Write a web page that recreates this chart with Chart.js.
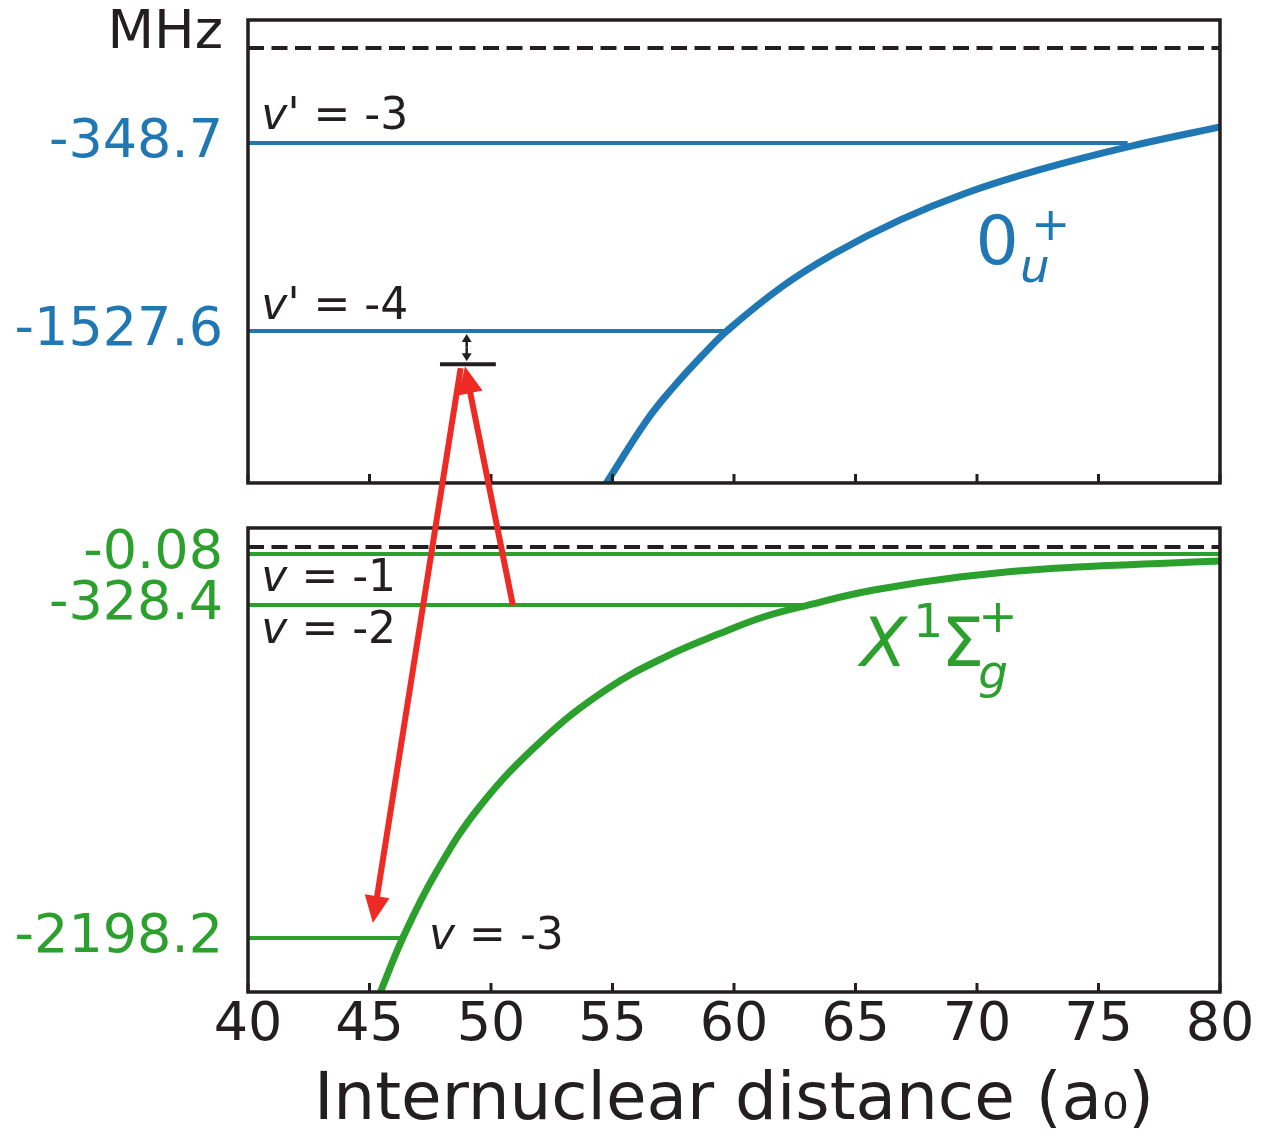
<!DOCTYPE html>
<html>
<head>
<meta charset="utf-8">
<title>Photoassociation level scheme</title>
<script src="https://cdn.jsdelivr.net/npm/chart.js@4.4.1/dist/chart.umd.min.js"></script>
<style>
  html, body { margin: 0; padding: 0; background: #ffffff; }
  #wrap { width: 1264px; height: 1142px; position: relative; }
  canvas { display: block; }
</style>
</head>
<body>
<div id="wrap"><canvas id="scheme" width="1264" height="1142"></canvas></div>
<script>
// ---- data -----------------------------------------------------------------
// internuclear distance axis (a0)
const xTicks = [40, 45, 50, 55, 60, 65, 70, 75, 80];

// excited 0u+ state: bound levels (MHz below its threshold) and where each level line stops (a0)
const upperLevels = [-348.7, -1527.6];
const upperLevelNames = ["-3", "-4"];
const upperLevelEnds = [76.2, 59.7];

// ground X1Σg+ state
const lowerLevels = [-0.08, -328.4, -2198.2];
const lowerLevelNames = ["-1", "-2", "-3"];
const lowerLevelEnds = [80, 63.05, 46.3];

// potential curves: R (a0) and energy (MHz)
const upperR = [54.75, 56.42, 57.52, 58.78, 59.7, 61.97, 64.15, 66.84, 69.53, 72.55, 76.25, 80];
const upperE = [-2500, -2097, -1884, -1670, -1527.6, -1250, -1040, -831, -664, -518, -372, -290];

const lowerR = [45.45, 46.37, 47.72, 49.53, 52.12, 54.71, 57.18, 59.44, 61.24, 63.04, 65.75, 69.35, 73.18, 80];
const lowerE = [-2500, -2198.2, -1835, -1461, -1086, -806, -619, -487, -394, -328.4, -232, -146, -92, -45];

// photoassociation target level (detuned below v' = -4) and its R span
const targetE = -1740;
const targetSpan = [47.9, 50.2];

// ---- styles ---------------------------------------------------------------
const FONT = "'DejaVu Sans'";
const INK = '#231f20';
const BLUE = '#1f77b4';
const GREEN = '#2ca02c';
const RED = '#ed2a24';

// Schematic energy axes: each panel maps energy onto its own band of the plot height,
// piecewise-linear between the listed energies (stops are fractions of the plot height).
const energyBands = {
  yTop: { values: [100, 0, -348.7, -1527.6, -2500], stops: [0, 0.0288, 0.1265, 0.3200, 0.4763] },
  yBot: { values: [0.2, 0, -0.08, -328.4, -2198.2, -2500], stops: [0.5226, 0.5422, 0.5494, 0.6019, 0.9444, 1] }
};

class EnergyScale extends Chart.LinearScale {
  static id = 'energy';
  band() { return energyBands[this.id]; }
  area() { return this.chart.chartArea || this; }
  getPixelForValue(value) {
    if (value === null || value === undefined || isNaN(value)) return NaN;
    const { values, stops } = this.band();
    const { top, bottom } = this.area();
    let i = 0;
    while (i < values.length - 2 && value < values[i + 1]) i++;
    const t = (value - values[i]) / (values[i + 1] - values[i]);
    const f = stops[i] + t * (stops[i + 1] - stops[i]);
    return top + f * (bottom - top);
  }
  getValueForPixel(pixel) {
    const { values, stops } = this.band();
    const { top, bottom } = this.area();
    const f = (pixel - top) / (bottom - top);
    let i = 0;
    while (i < stops.length - 2 && f > stops[i + 1]) i++;
    const t = (f - stops[i]) / (stops[i + 1] - stops[i]);
    return values[i] + t * (values[i + 1] - values[i]);
  }
}
Chart.register(EnergyScale);

// ---- datasets -------------------------------------------------------------
const pts = (xs, ys) => xs.map((x, i) => ({ x, y: ys[i] }));

function curve(axis, xs, ys, color) {
  return {
    yAxisID: axis, data: pts(xs, ys), borderColor: color, borderWidth: 7,
    pointRadius: 0, fill: false, tension: 0.4
  };
}
function hline(axis, y, x0, x1, color, width, dash) {
  return {
    yAxisID: axis, data: [{ x: x0, y }, { x: x1, y }], borderColor: color,
    borderWidth: width, borderDash: dash || [], pointRadius: 0, fill: false
  };
}

const datasets = [
  curve('yTop', upperR, upperE, BLUE),
  curve('yBot', lowerR, lowerE, GREEN),
  hline('yTop', 0, xTicks[0], xTicks[xTicks.length - 1], INK, 4, [16, 7.5]),
  hline('yBot', 0, xTicks[0], xTicks[xTicks.length - 1], INK, 4, [16, 7.5]),
  hline('yTop', targetE, targetSpan[0], targetSpan[1], INK, 4),
  ...upperLevels.map((e, i) => hline('yTop', e, xTicks[0], upperLevelEnds[i], BLUE, 4)),
  ...lowerLevels.map((e, i) => hline('yBot', e, xTicks[0], lowerLevelEnds[i], GREEN, 4))
];

// ---- annotations ----------------------------------------------------------
// laser transitions: [R, E, axis]
const transitions = [
  { from: [50.9, -328.4, 'yBot'], to: [48.93, -1755, 'yTop'] },
  { from: [48.75, -1765, 'yTop'], to: [45.14, -2114, 'yBot'] }
];

// level tags: axis, level, R of text start, pixel offset of baseline, primed quantum number
const levelTags = [
  { axis: 'yTop', level: upperLevels[0], r: 40.55, dy: -14, prime: true, name: upperLevelNames[0] },
  { axis: 'yTop', level: upperLevels[1], r: 40.55, dy: -12, prime: true, name: upperLevelNames[1] },
  { axis: 'yBot', level: lowerLevels[0], r: 40.55, dy: 37, prime: false, name: lowerLevelNames[0] },
  { axis: 'yBot', level: lowerLevels[1], r: 40.55, dy: 38, prime: false, name: lowerLevelNames[1] },
  { axis: 'yBot', level: lowerLevels[2], r: 47.45, dy: 11, prime: false, name: lowerLevelNames[2] }
];

function font(size, italic) { return (italic ? 'italic ' : '') + size + 'px ' + FONT; }

function arrow(ctx, x1, y1, x2, y2, width, headLen, headHalf, color) {
  const dx = x2 - x1, dy = y2 - y1, L = Math.hypot(dx, dy);
  const ux = dx / L, uy = dy / L;
  const bx = x2 - ux * headLen, by = y2 - uy * headLen;
  ctx.strokeStyle = color; ctx.fillStyle = color; ctx.lineWidth = width; ctx.lineCap = 'butt';
  ctx.beginPath(); ctx.moveTo(x1, y1); ctx.lineTo(bx + ux * 2, by + uy * 2); ctx.stroke();
  ctx.beginPath();
  ctx.moveTo(x2, y2);
  ctx.lineTo(bx - uy * headHalf, by + ux * headHalf);
  ctx.lineTo(bx + uy * headHalf, by - ux * headHalf);
  ctx.closePath(); ctx.fill();
}

function text(ctx, str, x, y, f, color) {
  ctx.font = f; ctx.fillStyle = color; ctx.fillText(str, x, y);
  return ctx.measureText(str).width;
}

const overlay = {
  id: 'overlay',
  afterDraw(chart) {
    const { ctx, scales } = chart;
    const xs = scales.x;
    const xL = xs.getPixelForValue(xTicks[0]);
    const xR = xs.getPixelForValue(xTicks[xTicks.length - 1]);
    ctx.save();

    // panel frames with inward tick marks along their lower edges
    ['yTop', 'yBot'].forEach(id => {
      const ax = scales[id], v = energyBands[id].values;
      const y0 = ax.getPixelForValue(v[0]), y1 = ax.getPixelForValue(v[v.length - 1]);
      ctx.strokeStyle = INK; ctx.lineWidth = 3; ctx.beginPath();
      xTicks.forEach(t => { const px = xs.getPixelForValue(t); ctx.moveTo(px, y1); ctx.lineTo(px, y1 - 9); });
      ctx.stroke();
      ctx.lineWidth = 3.5; ctx.strokeRect(xL, y0, xR - xL, y1 - y0);
    });

    // detuning marker between v' = -4 and the target level
    const ax = scales.yTop;
    const mx = xs.getPixelForValue(49.0);
    const yA = ax.getPixelForValue(upperLevels[1]) + 3, yB = ax.getPixelForValue(targetE) - 3;
    arrow(ctx, mx, (yA + yB) / 2, mx, yA, 2.5, 8, 5, INK);
    arrow(ctx, mx, (yA + yB) / 2, mx, yB, 2.5, 8, 5, INK);

    // laser transitions
    transitions.forEach(t => {
      const x1 = xs.getPixelForValue(t.from[0]), y1 = scales[t.from[2]].getPixelForValue(t.from[1]);
      const x2 = xs.getPixelForValue(t.to[0]), y2 = scales[t.to[2]].getPixelForValue(t.to[1]);
      arrow(ctx, x1, y1, x2, y2, 6, 27, 12.5, RED);
    });

    // unit label
    ctx.textAlign = 'right'; ctx.textBaseline = 'alphabetic';
    text(ctx, 'MHz', xL - 25, ax.getPixelForValue(0), font(54), INK);

    // vibrational level tags
    ctx.textAlign = 'left';
    levelTags.forEach(tag => {
      let x = xs.getPixelForValue(tag.r);
      const y = scales[tag.axis].getPixelForValue(tag.level) + tag.dy;
      x += text(ctx, 'v', x, y, font(44, true), INK);
      text(ctx, (tag.prime ? "'" : '') + ' = ' + tag.name, x, y, font(44), INK);
    });

    // state names
    let x0 = xs.getPixelForValue(69.94), y0 = scales.yTop.getPixelForValue(-1107.5);
    text(ctx, '0', x0, y0, font(68), BLUE);
    text(ctx, 'u', x0 + 44.5, y0 + 18, font(47, true), BLUE);
    text(ctx, '+', x0 + 55.5, y0 - 24, font(47), BLUE);

    x0 = xs.getPixelForValue(65.2); y0 = scales.yBot.getPixelForValue(-670.9);
    text(ctx, 'X', x0, y0, font(68, true), GREEN);
    text(ctx, '1', x0 + 53, y0 - 29, font(47), GREEN);
    text(ctx, 'Σ', x0 + 81, y0, font(68), GREEN);
    text(ctx, 'g', x0 + 118, y0 + 22, font(47, true), GREEN);
    text(ctx, '+', x0 + 118, y0 - 34, font(47), GREEN);

    ctx.restore();
  }
};

// ---- chart ----------------------------------------------------------------
const levelTicks = (list) => (scale) => { scale.ticks = list.map(v => ({ value: v })); };
// both energy axes share one stacked column on the left; the upper panel's axis sits on top
const yAxis = (list, color, weight, min, max) => ({
  type: 'energy', position: 'left', stack: 'energy', stackWeight: 1, weight, min, max,
  afterBuildTicks: levelTicks(list),
  afterFit: (s) => { s.width = 248; s.paddingTop = 0; s.paddingBottom = 0; },
  grid: { display: false, drawTicks: false },
  border: { display: false },
  ticks: { color, font: { family: FONT, size: 54 }, padding: 25, autoSkip: false, callback: (v) => String(v) }
});

new Chart(document.getElementById('scheme'), {
  type: 'line',
  data: { datasets },
  options: {
    responsive: false,
    maintainAspectRatio: false,
    animation: false,
    layout: { padding: { top: 20, right: 44, left: 0, bottom: 0 } },
    plugins: { legend: { display: false }, tooltip: { enabled: false } },
    events: [],
    scales: {
      x: {
        type: 'linear', position: 'bottom', min: xTicks[0], max: xTicks[xTicks.length - 1],
        afterBuildTicks: levelTicks(xTicks),
        afterFit: (s) => { s.height = 150; s.paddingLeft = 0; s.paddingRight = 0; },
        grid: { display: false, drawTicks: false },
        border: { display: false },
        ticks: { color: INK, font: { family: FONT, size: 54 }, padding: 2, maxRotation: 0, autoSkip: false, callback: (v) => String(v) },
        title: { display: true, text: 'Internuclear distance (a₀)', color: INK, font: { family: FONT, size: 66 }, padding: { top: 0, bottom: 1 } }
      },
      yTop: yAxis(upperLevels, BLUE, 1, -2500, 100),
      yBot: yAxis(lowerLevels, GREEN, 0, -2500, 0.2)
    }
  },
  plugins: [overlay]
});
</script>
</body>
</html>
